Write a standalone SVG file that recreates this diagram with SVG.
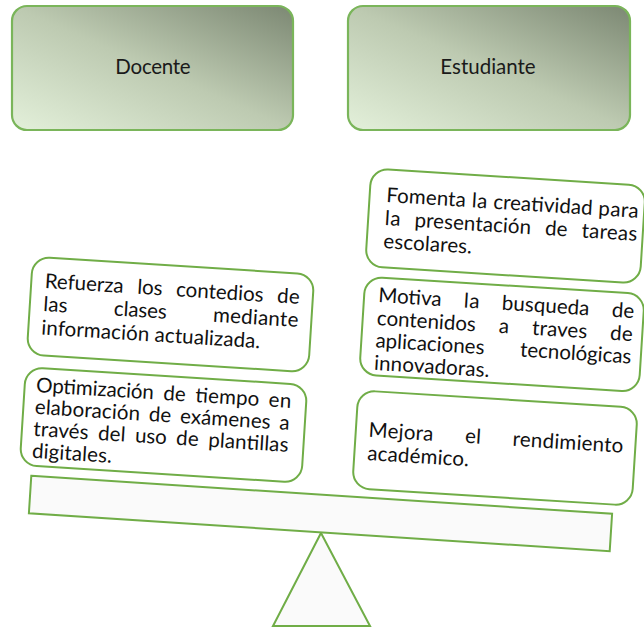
<svg xmlns="http://www.w3.org/2000/svg" width="644" height="628" viewBox="0 0 644 628">
<defs>
<linearGradient id="hg" x1="0" y1="1" x2="1" y2="0">
<stop offset="0" stop-color="#e3f0da"/>
<stop offset="0.5" stop-color="#bdcab1"/>
<stop offset="1" stop-color="#7c8873"/>
</linearGradient>
<style>
.hdr{fill:url(#hg);stroke:#7ab55a;stroke-width:2.2}
.box{fill:#fff;stroke:#70ad47;stroke-width:2}
.t{font-family:Lato,'Liberation Sans',sans-serif;font-size:20.5px;fill:#111}
.h{font-family:Lato,'Liberation Sans',sans-serif;font-size:20.5px;fill:#1a1a1a;text-anchor:middle}
.part{fill:#fafafa;stroke:#70ad47;stroke-width:2}
</style>
</defs>
<rect width="644" height="628" fill="#fff"/>

<g id="docente">
<rect class="hdr" x="12" y="6" width="281" height="124" rx="15"/>
<text class="h" x="153" y="74" textLength="75.3">Docente</text>
</g>
<g id="estudiante">
<rect class="hdr" x="348" y="6" width="282" height="124" rx="15"/>
<text class="h" x="488" y="74" textLength="95.3">Estudiante</text>
</g>

<g id="scale">
<polygon class="part" points="321,533 370,626 273,626"/>
<polygon class="part" points="31.3,475.8 612.1,513.8 609.7,551.2 28.9,513.2"/>
</g>

<g id="refuerza" transform="translate(170.5 314.5) rotate(3.6)">
<rect class="box" x="-141" y="-49" width="282" height="98" rx="17"/>
<text class="t" x="-127.5" y="-18.6" textLength="79">Refuerza</text>
<text class="t" x="-34.8" y="-18.6" textLength="25.2">los</text>
<text class="t" x="4.1" y="-18.6" textLength="87.6">contedios</text>
<text class="t" x="105.4" y="-18.6" textLength="22.5">de</text>
<text class="t" x="-127.4" y="4.5" textLength="24.2">las</text>
<text class="t" x="-56.85" y="4.5" textLength="53">clases</text>
<text class="t" x="42.5" y="4.5" textLength="85.5">mediante</text>
<text class="t" x="-128" y="28" textLength="219.4">información actualizada.</text>
</g>

<g id="optimizacion" transform="translate(163.5 425) rotate(3.6)">
<rect class="box" x="-141" y="-49" width="282" height="98" rx="17"/>
<text class="t" x="-129.5" y="-25" textLength="117.9">Optimización</text>
<text class="t" x="-2.1" y="-25" textLength="22.5">de</text>
<text class="t" x="29.9" y="-25" textLength="64.1">tiempo</text>
<text class="t" x="103.5" y="-25" textLength="22.5">en</text>
<text class="t" x="-129.5" y="-3" textLength="105.4">elaboración</text>
<text class="t" x="-15.3" y="-3" textLength="22.5">de</text>
<text class="t" x="16" y="-3" textLength="90.7">exámenes</text>
<text class="t" x="115.5" y="-3" textLength="10.5">a</text>
<text class="t" x="-129.5" y="19" textLength="55.1">través</text>
<text class="t" x="-64.8" y="19" textLength="27.5">del</text>
<text class="t" x="-27.7" y="19" textLength="31.7">uso</text>
<text class="t" x="13.6" y="19" textLength="22.5">de</text>
<text class="t" x="45.7" y="19" textLength="80.3">plantillas</text>
<text class="t" x="-129.5" y="41" textLength="80">digitales.</text>
</g>

<g id="fomenta" transform="translate(505.5 226) rotate(3.6)">
<rect class="box" x="-137.5" y="-49" width="275" height="98" rx="17"/>
<text class="t" x="-120.8" y="-16.5" textLength="79.7">Fomenta</text>
<text class="t" x="-35.2" y="-16.5" textLength="15.6">la</text>
<text class="t" x="-13.7" y="-16.5" textLength="99.5">creatividad</text>
<text class="t" x="91.7" y="-16.5" textLength="40.3">para</text>
<text class="t" x="-120.8" y="6.6" textLength="15.6">la</text>
<text class="t" x="-91.1" y="6.6" textLength="116.7">presentación</text>
<text class="t" x="39.7" y="6.6" textLength="22.5">de</text>
<text class="t" x="76.3" y="6.6" textLength="55.7">tareas</text>
<text class="t" x="-120.8" y="29.7" textLength="88.8">escolares.</text>
</g>

<g id="motiva" transform="translate(502 334.3) rotate(3.6)">
<rect class="box" x="-140" y="-49" width="280" height="98" rx="17"/>
<text class="t" x="-125.8" y="-24.4" textLength="63.3">Motiva</text>
<text class="t" x="-40.1" y="-24.4" textLength="15.6">la</text>
<text class="t" x="-2.1" y="-24.4" textLength="87.8">busqueda</text>
<text class="t" x="108.1" y="-24.4" textLength="22.5">de</text>
<text class="t" x="-125.8" y="-1.4" textLength="99.1">contenidos</text>
<text class="t" x="-3.7" y="-1.4" textLength="10.5">a</text>
<text class="t" x="29.8" y="-1.4" textLength="55.1">traves</text>
<text class="t" x="107.9" y="-1.4" textLength="22.5">de</text>
<text class="t" x="-125.8" y="21" textLength="109.1">aplicaciones</text>
<text class="t" x="19.2" y="21" textLength="111.3">tecnológicas</text>
<text class="t" x="-125.8" y="43.5" textLength="115.7">innovadoras.</text>
</g>

<g id="mejora" transform="translate(495 448) rotate(3.6)">
<rect class="box" x="-140" y="-49" width="280" height="98" rx="17"/>
<text class="t" x="-127.1" y="-3.3" textLength="64.8">Mejora</text>
<text class="t" x="-30.6" y="-3.3" textLength="16">el</text>
<text class="t" x="17.1" y="-3.3" textLength="110.9">rendimiento</text>
<text class="t" x="-127.1" y="20" textLength="101.9">académico.</text>
</g>
</svg>
